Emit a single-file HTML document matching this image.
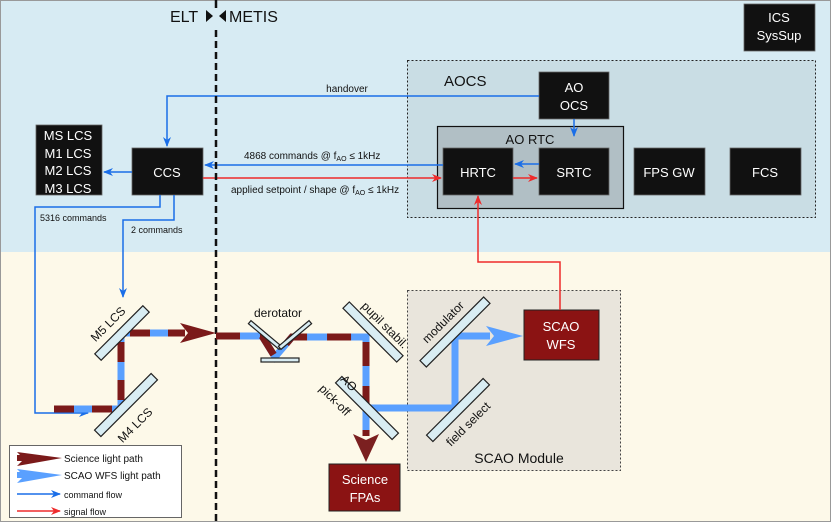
<!DOCTYPE html>
<html><head><meta charset="utf-8"><style>
html,body{margin:0;padding:0;background:#fff}
svg{display:block;font-family:"Liberation Sans",sans-serif}
</style></head><body>
<svg width="831" height="522" viewBox="0 0 831 522" xmlns="http://www.w3.org/2000/svg">
<defs>
<marker id="ab" markerWidth="10" markerHeight="8" refX="9" refY="4" orient="auto" markerUnits="userSpaceOnUse"><path d="M0,0 L10,4 L0,8 L3,4z" fill="#1a6ee8"/></marker>
<marker id="ar" markerWidth="10" markerHeight="8" refX="9" refY="4" orient="auto" markerUnits="userSpaceOnUse"><path d="M0,0 L10,4 L0,8 L3,4z" fill="#ee2b2b"/></marker>
</defs>
<rect x="0" y="0" width="831" height="252" fill="#d7ebf3"/>
<rect x="0" y="252" width="831" height="270" fill="#fdf9e9"/>
<rect x="0.5" y="0.5" width="830" height="521" fill="none" stroke="#999" stroke-width="1"/>

<rect x="407.5" y="60.5" width="408" height="157" fill="#c9dde4" stroke="#222" stroke-dasharray="2,2"/>
<text x="444" y="86" font-size="15" fill="#111">AOCS</text>
<rect x="437.5" y="126.5" width="186" height="82" fill="#b1bfc5" stroke="#111" stroke-width="1.2"/>
<text x="530" y="144" font-size="13" text-anchor="middle" fill="#111">AO RTC</text>

<rect x="407.5" y="290.5" width="213" height="180" fill="#e9e5dc" stroke="#444" stroke-dasharray="2,2"/>
<text x="519" y="463" font-size="14" text-anchor="middle" fill="#111">SCAO Module</text>

<g fill="#111" stroke="#666" stroke-width="0.8">
<rect x="744" y="4" width="71" height="47"/>
<rect x="539" y="72" width="70" height="47"/>
<rect x="443" y="148" width="70" height="47"/>
<rect x="539" y="148" width="70" height="47"/>
<rect x="634" y="148" width="71" height="47"/>
<rect x="730" y="148" width="71" height="47"/>
<rect x="36" y="125" width="66" height="70"/>
<rect x="132" y="148" width="71" height="47"/>
</g>
<g fill="#fff" font-size="13" text-anchor="middle">
<text x="779" y="22">ICS</text><text x="779" y="40">SysSup</text>
<text x="574" y="92">AO</text><text x="574" y="110">OCS</text>
<text x="478" y="177">HRTC</text>
<text x="574" y="177">SRTC</text>
<text x="669" y="177">FPS GW</text>
<text x="765" y="177">FCS</text>
<text x="167" y="177">CCS</text>
<text x="68" y="140">MS LCS</text><text x="68" y="158">M1 LCS</text><text x="68" y="175">M2 LCS</text><text x="68" y="193">M3 LCS</text>
</g>

<rect x="524" y="310" width="75" height="50" fill="#8b1313" stroke="#222"/>
<text x="561" y="331" font-size="13" fill="#fff" text-anchor="middle">SCAO</text>
<text x="561" y="349" font-size="13" fill="#fff" text-anchor="middle">WFS</text>
<rect x="329" y="464" width="71" height="47" fill="#8b1313" stroke="#222"/>
<text x="365" y="484" font-size="13" fill="#fff" text-anchor="middle">Science</text>
<text x="365" y="502" font-size="13" fill="#fff" text-anchor="middle">FPAs</text>

<g fill="none" stroke="#1a6ee8" stroke-width="1.5">
<path d="M539,96 H167 V146" marker-end="url(#ab)"/>
<path d="M443,165 H205" marker-end="url(#ab)"/>
<path d="M539,164 H515" marker-end="url(#ab)"/>
<path d="M574,119 V136" marker-end="url(#ab)"/>
<path d="M132,172 H104" marker-end="url(#ab)"/>
<path d="M160,195 V207 H35 V413 H88" marker-end="url(#ab)"/>
<path d="M174,195 V220 H123 V297" marker-end="url(#ab)"/>
</g>
<g fill="none" stroke="#ee2b2b" stroke-width="1.5">
<path d="M203,178 H441" marker-end="url(#ar)"/>
<path d="M513,178 H537" marker-end="url(#ar)"/>
<path d="M560,310 V262 H478 V196" marker-end="url(#ar)"/>
</g>
<g font-size="10" fill="#111">
<text x="347" y="92" text-anchor="middle">handover</text>
<text x="244" y="159">4868 commands @  f<tspan font-size="7" dy="2">AO</tspan><tspan dy="-2"> ≤ 1kHz</tspan></text>
<text x="231" y="193">applied setpoint / shape @  f<tspan font-size="7" dy="2">AO</tspan><tspan dy="-2"> ≤ 1kHz</tspan></text>
<text x="40" y="221" font-size="9">5316 commands</text>
<text x="131" y="233" font-size="9">2 commands</text>
</g>

<line x1="216" y1="8" x2="216" y2="522" stroke="#111" stroke-width="2.5" stroke-dasharray="7,4"/>
<rect x="168" y="6" width="120" height="20" fill="#d7ebf3"/>
<text x="170" y="22" font-size="16" fill="#111">ELT</text>
<path d="M206,10 L213,16 L206,22z M226,10 L219,16 L226,22z" fill="#111"/>
<text x="229" y="22" font-size="16" fill="#111">METIS</text>
<line x1="216" y1="0" x2="216" y2="8" stroke="#111" stroke-width="2.5"/>

<g fill="none" stroke-width="7">
<path d="M54,409 H121 V333 H185" stroke="#5aa0ff"/>
<path d="M54,409 H121 V333 H185" stroke="#7b1a1a" stroke-dasharray="20,18"/>
<path d="M216,336 H262 L275,357 L292,337 H366 V410 V436" stroke="#5aa0ff"/>
<path d="M216,336 H262 L275,357 L292,337 H366 V410 V436" stroke="#7b1a1a" stroke-dasharray="24,20"/>
<path d="M366,408 H455 V336 H490" stroke="#5aa0ff"/>
</g>
<path d="M180,323 L216,333 L180,343 L188,333z" fill="#7b1a1a"/>
<path d="M353,434 L366,462 L379,434 L366,440z" fill="#7b2020"/>
<path d="M486,326 L523,336 L486,346 L494,336z" fill="#5aa0ff"/>

<g fill="#d9edf3" stroke="#222" stroke-width="1.2">
<rect x="-4.5" y="-34" width="9" height="68" transform="translate(122,333) rotate(45)"/>
<rect x="-4.5" y="-40" width="9" height="80" transform="translate(126,405) rotate(45)"/>
<rect x="-4.5" y="-38" width="9" height="76" transform="translate(373,332) rotate(-45)"/>
<rect x="-4.5" y="-40" width="9" height="80" transform="translate(367,408) rotate(-45)"/>
<rect x="-4.5" y="-45" width="9" height="90" transform="translate(455,332) rotate(45)"/>
<rect x="-4.5" y="-40" width="9" height="80" transform="translate(458,410) rotate(45)"/>
<rect x="261" y="358" width="38" height="4"/>
<rect x="-2" y="-20" width="4" height="40" transform="translate(265,335) rotate(-50)"/>
<rect x="-2" y="-20" width="4" height="40" transform="translate(295,335) rotate(50)"/>
</g>
<g font-size="12" fill="#111">
<text x="278" y="317" text-anchor="middle">derotator</text>
<text transform="translate(111,327) rotate(-45)" text-anchor="middle">M5 LCS</text>
<text transform="translate(138,428) rotate(-45)" text-anchor="middle">M4 LCS</text>
<text transform="translate(382,328) rotate(45)" text-anchor="middle">pupil stabil.</text>
<text transform="translate(346,386) rotate(45)" text-anchor="middle">AO</text>
<text transform="translate(332,403) rotate(45)" text-anchor="middle">pick-off</text>
<text transform="translate(446,325) rotate(-45)" text-anchor="middle">modulator</text>
<text transform="translate(471,427) rotate(-45)" text-anchor="middle">field select</text>
</g>

<rect x="9.5" y="445.5" width="172" height="72" fill="#fff" stroke="#666"/>
<path d="M17,452 L62,458 L17,466 L24,459z" fill="#7b1a1a"/>
<rect x="17" y="455" width="12" height="6" fill="#7b1a1a"/>
<path d="M17,469 L62,475 L17,483 L24,476z" fill="#5aa0ff"/>
<rect x="17" y="472" width="12" height="6" fill="#5aa0ff"/>
<path d="M17,494 H60" stroke="#1a6ee8" stroke-width="1.5" marker-end="url(#ab)"/>
<path d="M17,511 H60" stroke="#ee2b2b" stroke-width="1.5" marker-end="url(#ar)"/>
<g font-size="10" fill="#111">
<text x="64" y="462">Science light path</text>
<text x="64" y="479">SCAO WFS light path</text>
<text x="64" y="498" font-size="9">command flow</text>
<text x="64" y="515" font-size="9">signal flow</text>
</g>
</svg>
</body></html>
